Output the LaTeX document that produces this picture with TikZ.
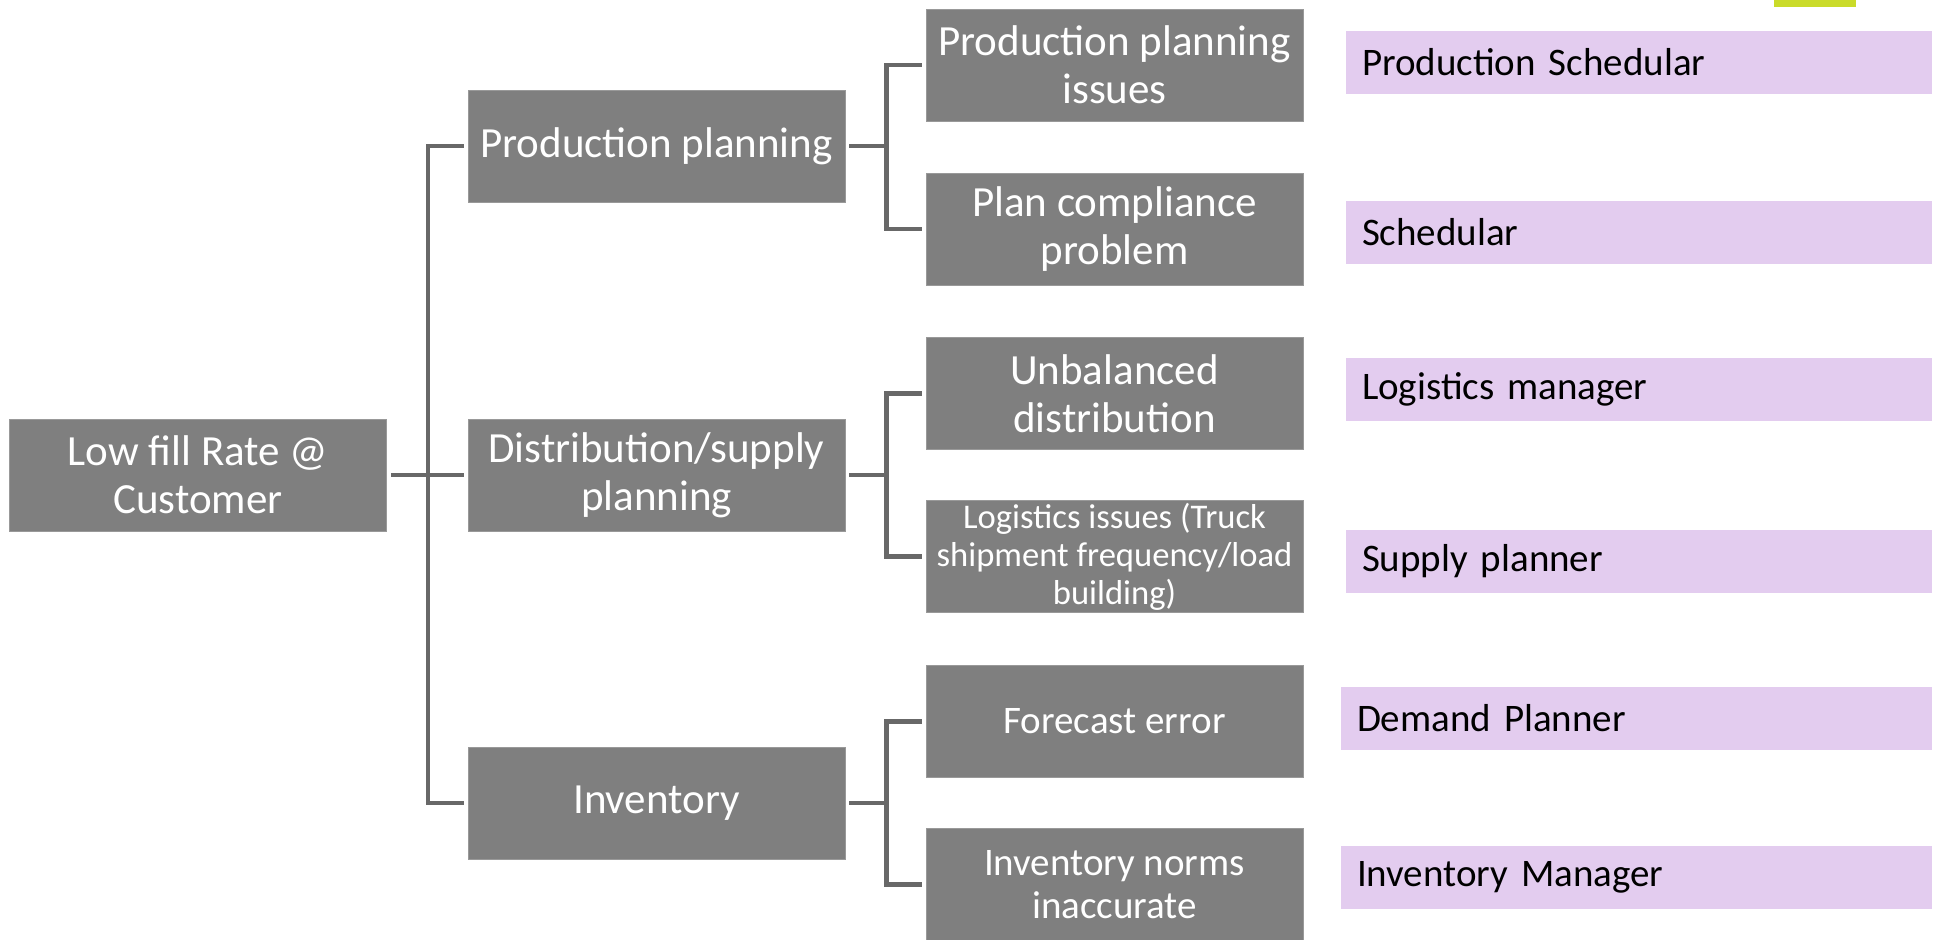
\documentclass[tikz,border=0pt]{standalone}
\usepackage{fontspec}
\setmainfont{Carlito}
\usetikzlibrary{positioning}
\definecolor{boxgrey}{HTML}{7F7F7F}
\definecolor{linegrey}{HTML}{686868}
\definecolor{rolepink}{HTML}{E3CCEF}
\definecolor{limegreen}{HTML}{CADB2A}
\tikzstyle{issue}=[fill=boxgrey,draw=boxgrey!80!white,line width=0.4pt,text=white,align=center,inner sep=0pt,minimum width=188.5pt,minimum height=56pt,font=\fontsize{21.5}{24}\selectfont]
\tikzstyle{issuemid}=[issue,font=\fontsize{19.5}{21.5}\selectfont]
\tikzstyle{issuesmall}=[issue,font=\fontsize{17.3}{19}\selectfont]
\tikzstyle{role}=[fill=rolepink,text=black,align=left,inner xsep=8pt,inner ysep=0pt,text width=277pt,minimum height=31.5pt,font=\fontsize{19.5}{22}\selectfont]
\tikzstyle{rolewide}=[role,text width=279.5pt]
\tikzstyle{link}=[draw=linegrey,line width=2.2pt,shorten <=2pt,shorten >=2pt]

\begin{document}
\begin{tikzpicture}[x=0.5pt,y=-0.5pt]
    \useasboundingbox (0,0) rectangle (1940,939);
    \fill[limegreen] (1774,0) rectangle (1856,7);

    \node[issue] (root) at (198,475) {Low fill Rate @\\Customer};

    \node[issue] (prod) at (656.5,146) {Production planning};
    \node[issue] (dist) at (656.5,475) {Distribution/supply\\planning};
    \node[issue] (inv) at (656.5,803) {Inventory};

    \node[issue] (prodissue) at (1114.5,65) {Production planning\\issues};
    \node[issue] (plancomp) at (1114.5,229) {Plan compliance\\problem};
    \node[issue] (unbal) at (1114.5,393.5) {Unbalanced\\distribution};
    \node[issuesmall] (logist) at (1114.5,556.5) {Logistics issues (Truck\\shipment frequency/load\\building)};
    \node[issuemid] (forecast) at (1114.5,721.5) {Forecast error};
    \node[issuemid] (norms) at (1114.5,884.5) {Inventory norms\\inaccurate};

    \node[role] (scheduler) at (1639,62.5) {Production Schedular};
    \node[role] (planner) at (1639,232) {Schedular};
    \node[role] (logman) at (1639,389.5) {Logistics manager};
    \node[role] (supply) at (1639,561.5) {Supply planner};
    \node[rolewide] (demand) at (1636.5,718.5) {Demand Planner};
    \node[rolewide] (invman) at (1636.5,877.5) {Inventory Manager};

    % root to the three causes
    \coordinate (spine) at (428,475);
    \draw[link] (root) -- (dist);
    \draw[link] (prod.west) -| (spine) |- (inv.west);

    % causes to sub causes
    \path (prod.east) ++(41,0) coordinate (prodfork);
    \draw[link,shorten >=0pt] (prod) -- (prodfork);
    \draw[link] (prodissue.west) -| (prodfork) |- (plancomp.west);

    \path (dist.east) ++(41,0) coordinate (distfork);
    \draw[link,shorten >=0pt] (dist) -- (distfork);
    \draw[link] (unbal.west) -| (distfork) |- (logist.west);

    \path (inv.east) ++(41,0) coordinate (invfork);
    \draw[link,shorten >=0pt] (inv) -- (invfork);
    \draw[link] (forecast.west) -| (invfork) |- (norms.west);
\end{tikzpicture}
\end{document}
